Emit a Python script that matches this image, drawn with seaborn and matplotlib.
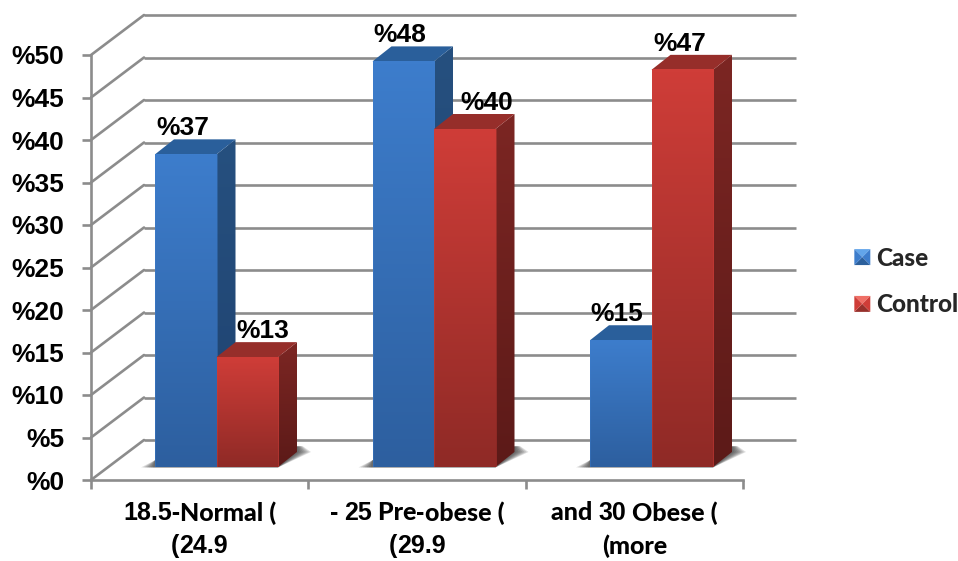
#!/usr/bin/env python3
"""BMI group share, case vs control (3D look column chart)"""

import re
import numpy as np
import pandas as pd
import matplotlib
matplotlib.use('Agg')
import matplotlib.pyplot as plt
from matplotlib.colors import LinearSegmentedColormap
from matplotlib.legend_handler import HandlerBase
from matplotlib.patches import Patch, Polygon
from matplotlib.transforms import Affine2D, IdentityTransform
import seaborn as sns

# data
categories = ['18.5-Normal (\n(24.9', '- 25 Pre-obese (\n(29.9', 'and 30 Obese (\n(more']
case_values = [37, 48, 15]
control_values = [13, 40, 47]
y_ticks = [0, 5, 10, 15, 20, 25, 30, 35, 40, 45, 50]
series_names = ['Case', 'Control']

# colours: front top, front bottom, side top, side bottom, top face
BLUE = ['#3d7dcc', '#2d5f9f', '#26507f', '#1f4270', '#2a5f9b']
RED = ['#cf3d38', '#8f2a26', '#7c2623', '#5c1a18', '#962e2a']
# legend swatch: top, left/right, bottom
BLUE_KEY = ['#62a5ea', '#3d7dcc', '#2c609c']
RED_KEY = ['#ef6f66', '#cf3d38', '#96302b']
GRID = '#8c8c8c'

# px
W, H = 958, 561
WALL_DX, WALL_DY = 53, 40
BAR_DX, BAR_DY = 19, 15
PX_PER_CAT = 217.5
PX_PER_UNIT = 8.45

sns.set_theme(style='white')
plt.rcParams['font.family'] = ['Liberation Sans', 'DejaVu Sans']


def px_rect(left, right, bottom, top):
    """pixel box (y from the top) to figure fractions"""
    return [left / W, 1 - bottom / H, (right - left) / W, (bottom - top) / H]


def gradient(ax, c_top, c_bottom, extent, zorder, clip=None):
    cmap = LinearSegmentedColormap.from_list('g', [c_top, c_bottom])
    im = ax.imshow(np.linspace(0, 1, 128).reshape(-1, 1), cmap=cmap, aspect='auto',
                   extent=extent, zorder=zorder, interpolation='bilinear')
    if clip is not None:
        im.set_clip_path(clip)
    return im


class PyramidHandler(HandlerBase):
    """legend swatch with four shaded facets"""

    def __init__(self, colours):
        super().__init__()
        self.colours = colours

    def create_artists(self, legend, orig_handle, xd, yd, width, height, fontsize, trans):
        s = 11.5
        x0 = -xd + width - s
        y0 = -yd + height / 2 - s / 2
        cx, cy = x0 + s / 2, y0 + s / 2
        a, b, c, d = (x0, y0), (x0 + s, y0), (x0 + s, y0 + s), (x0, y0 + s)
        top, mid, low = self.colours
        facets = [([d, c, (cx, cy)], top), ([a, b, (cx, cy)], low),
                  ([a, d, (cx, cy)], mid), ([b, c, (cx, cy)], mid)]
        return [Polygon(p, closed=True, facecolor=col, edgecolor='none', transform=trans)
                for p, col in facets]


fig = plt.figure(figsize=(W / 100, H / 100), dpi=100)
fig.patch.set_facecolor('white')

# back wall, floor and value axis
wall = fig.add_axes(px_rect(91, 743, 480, 55))
wall.set_xlim(0, 3)
wall.set_ylim(0, 50)
wall.patch.set_alpha(0)
for side in ['top', 'right']:
    wall.spines[side].set_visible(False)
for side in ['left', 'bottom']:
    wall.spines[side].set_color(GRID)
    wall.spines[side].set_linewidth(1.9)
wall.set_yticks(y_ticks)
wall.set_yticklabels([f'%{v}' for v in y_ticks], fontsize=19, fontweight='bold', color='black')
wall.set_xticks(range(4))
wall.set_xticklabels([])
wall.tick_params(axis='y', left=True, length=6.5, width=1.9, color=GRID, pad=12.5)
wall.tick_params(axis='x', bottom=True, length=6.5, width=1.9, color=GRID)

back = Affine2D().translate(WALL_DX, WALL_DY) + IdentityTransform()
back_trans = wall.transData + back
for v in y_ticks:
    wall.plot([0, 3], [v, v], color=GRID, lw=1.9, transform=back_trans, clip_on=False,
              solid_capstyle='butt')
    x0, y0 = wall.transData.transform((0, v))
    wall.plot([x0, x0 + WALL_DX], [y0, y0 + WALL_DY], color=GRID, lw=1.9,
              transform=IdentityTransform(), clip_on=False)

# bars
df = pd.DataFrame({
    'group': categories * 2,
    'series': ['Case'] * 3 + ['Control'] * 3,
    'value': case_values + control_values,
})
ax = fig.add_axes(px_rect(91, 743, 467, 467 - 50 * PX_PER_UNIT))
ax.patch.set_alpha(0)
sns.barplot(data=df, x='group', y='value', hue='series', hue_order=series_names,
            palette=[BLUE[0], RED[0]], width=123 / PX_PER_CAT, gap=0, ax=ax, legend=False)
xlim = ((91 - 216.5) / PX_PER_CAT, (743 - 216.5) / PX_PER_CAT)
ddx, ddy = BAR_DX / PX_PER_CAT, BAR_DY / PX_PER_UNIT

# soft floor shadow behind each pair of bars
for cat in range(3):
    left = ax.containers[0][cat].get_x()
    right = ax.containers[1][cat].get_x() + ax.containers[1][cat].get_width() + ddx
    for g in range(7):
        grow = (g + 1) * 2.0 / PX_PER_CAT
        poly = [(left - grow, -0.05), (right - ddx, -0.05), (right + grow, ddy),
                (right + grow * 0.4, ddy + 0.7), (left, 0.8)]
        ax.add_patch(Polygon(poly, closed=True, facecolor='#202020', edgecolor='none',
                             alpha=0.14, zorder=1, clip_on=False))

label_shift = {(0, 0): -3, (0, 1): 16, (1, 0): -3, (1, 1): 22, (2, 0): -4, (2, 1): -3}
order = 2
for cat in range(3):
    for s, cols in enumerate([BLUE, RED]):
        bar = ax.containers[s][cat]
        x0, x1 = bar.get_x(), bar.get_x() + bar.get_width()
        h = bar.get_height()

        side_poly = Polygon([(x1, 0), (x1 + ddx, ddy), (x1 + ddx, h + ddy), (x1, h)], closed=True,
                            facecolor='none', edgecolor='none', zorder=order)
        ax.add_patch(side_poly)
        gradient(ax, cols[2], cols[3], (x1, x1 + ddx, 0, h + ddy), order, clip=side_poly)

        ax.add_patch(Polygon([(x0, h), (x1, h), (x1 + ddx, h + ddy), (x0 + ddx, h + ddy)], closed=True,
                             facecolor=cols[4], edgecolor='none', zorder=order + 1))

        gradient(ax, cols[0], cols[1], (x0, x1, 0, h), order + 2)
        bar.set_facecolor('none')
        bar.set_edgecolor(cols[0])
        bar.set_linewidth(0.5)
        bar.set_alpha(0.6)
        bar.set_zorder(order + 3)
        order += 4

        ax.annotate(f'%{int(h)}', ((x0 + x1) / 2, h), xytext=(label_shift[(cat, s)] * 0.72, 26 * 0.72),
                    textcoords='offset points', ha='center', va='center', fontsize=19,
                    fontweight='bold', color='black', zorder=200, annotation_clip=False)

ax.set_xlim(*xlim)
ax.set_ylim(0, 50)
ax.axis('off')

# category labels: digits in the Arial-like face, words in the Calibri-like one
renderer = fig.canvas.get_renderer()
for i, name in enumerate(categories):
    cx = wall.transData.transform((i + 0.5, 0))[0]
    for ln, line in enumerate(name.split('\n')):
        y = H - (513 + 33 * ln)
        runs = [r for r in re.split(r'([\d.\-]+)', line) if r]
        parts = []
        for r in runs:
            digits = re.fullmatch(r'[\d.\-]+', r) is not None or r == '('
            family = ['Liberation Sans'] if digits else ['Lato', 'DejaVu Sans']
            parts.append(fig.text(0, y, r, family=family, fontsize=18, fontweight=900 if not digits else 'bold',
                                  color='black', va='center', ha='left',
                                  transform=IdentityTransform()))
        widths = [p.get_window_extent(renderer).width for p in parts]
        x = cx - sum(widths) / 2
        for p, w in zip(parts, widths):
            p.set_x(x)
            x += w

# legend
handles = [Patch(label=series_names[0]), Patch(label=series_names[1])]
leg = fig.legend(handles=handles, labels=series_names, loc='center left',
                 bbox_to_anchor=(846 / W, 1 - 281.5 / H), frameon=False,
                 prop={'family': ['Lato', 'DejaVu Sans'], 'weight': 900, 'size': 17.5},
                 handler_map={handles[0]: PyramidHandler(BLUE_KEY), handles[1]: PyramidHandler(RED_KEY)},
                 handlelength=1.0, handletextpad=0.25, labelspacing=0.98, borderpad=0, borderaxespad=0)

fig.savefig('out.png', dpi=100)
plt.close(fig)
